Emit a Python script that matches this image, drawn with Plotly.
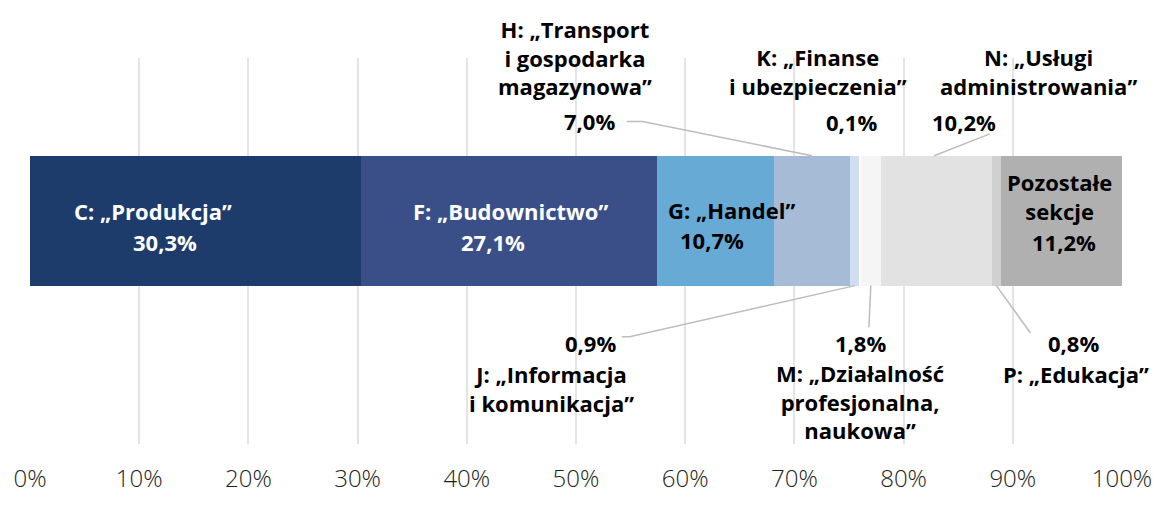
import plotly.graph_objects as go

# ---- data ----
sections = ["C", "F", "G", "H", "J", "K", "M", "N", "P", "Pozostałe"]
shares = [30.3, 27.1, 10.7, 7.0, 0.9, 0.1, 1.8, 10.2, 0.8, 11.2]
share_labels = ["30,3%", "27,1%", "10,7%", "7,0%", "0,9%", "0,1%", "1,8%", "10,2%", "0,8%", "11,2%"]
names = ["C: „Produkcja”", "F: „Budownictwo”", "G: „Handel”",
         "H: „Transport<br>i gospodarka<br>magazynowa”",
         "J: „Informacja<br>i komunikacja”",
         "K: „Finanse<br>i ubezpieczenia”",
         "M: „Działalność<br>profesjonalna,<br>naukowa”",
         "N: „Usługi<br>administrowania”",
         "P: „Edukacja”",
         "Pozostałe<br>sekcje"]
colors = ["#1d3b6b", "#3a4f88", "#68aad6", "#a5bbd6", "#d1ddf0", "#ffffff",
          "#f5f5f5", "#e2e2e2", "#d0d0d0", "#b0b0b0"]
tick_vals = [0, 10, 20, 30, 40, 50, 60, 70, 80, 90, 100]
tick_text = [f"{v}%" for v in tick_vals]

BOLD = "Open Sans"
FS = 22
PLOT_L, PLOT_R = 30, 1128
PLOT_T, PLOT_B = 58, 465
BAR_CY = 229.5
BAR_H = 137


def px2x(px):
    return (px - PLOT_L) / (PLOT_R - PLOT_L) * 100


def py2y(py):
    return BAR_CY - py


def py2paper(py):
    return (PLOT_B - py) / (PLOT_B - PLOT_T)


fig = go.Figure()
for s, v, c in zip(sections, shares, colors):
    fig.add_trace(go.Bar(x=[v], y=[0], orientation="h", marker=dict(color=c, line=dict(width=0)),
                         width=BAR_H, name=s, hoverinfo="skip", showlegend=False))

starts = []
acc = 0
for v in shares:
    starts.append(acc)
    acc += v
centers = [s + v / 2 for s, v in zip(starts, shares)]

ann = []


def add(text, px, py, color="black"):
    ann.append(dict(x=px2x(px), y=py2paper(py), text=text, showarrow=False,
                    xref="x", yref="paper", xanchor="center", yanchor="middle",
                    font=dict(family=BOLD, size=FS, color=color, weight=700), align="center"))


# inside labels
add(names[0], 153.5, 219, "white"); add(share_labels[0], 166, 251.5, "white")
add(names[1], 513, 219, "white"); add(share_labels[1], 496, 251.5, "white")
add(names[2], 735.5, 218.5); add(share_labels[2], 716, 249.5)
add(names[9], 1065.5, 204); add(share_labels[9], 1070, 252)
# outside labels (above)
add(names[3], 578, 57); add(share_labels[3], 592.5, 124)
add(names[5], 822.5, 72.5); add(share_labels[5], 856, 125)
add(names[7], 1044.5, 72.5); add(share_labels[7], 969, 125)
# outside labels (below)
add(share_labels[4], 593.5, 359); add(names[4], 554, 406)
add(share_labels[6], 865, 359); add(names[6], 865, 420)
add(share_labels[8], 1079, 359); add(names[8], 1082, 391)

top = py2y(BAR_CY - BAR_H / 2)
bot = py2y(BAR_CY + BAR_H / 2)
line_style = dict(color="#bdbdbd", width=1.5)
shapes = []


def path(points):
    d = "M " + " L ".join(f"{x},{y}" for x, y in points)
    shapes.append(dict(type="path", path=d, xref="x", yref="y", line=line_style))


path([(px2x(630), py2y(125)), (px2x(646), py2y(125)), (centers[3], top)])
path([(px2x(995), py2y(138)), (centers[7] - 0.2, top)])
path([(centers[4], bot), (px2x(633), py2y(352)), (px2x(625), py2y(352))])
path([(centers[6], bot), (px2x(873.5), py2y(342))])
path([(centers[8], bot), (px2x(1036), py2y(348))])

W, H = 1164, 506
fig.update_layout(
    barmode="stack",
    width=W, height=H,
    margin=dict(l=PLOT_L, r=W - PLOT_R, t=PLOT_T, b=H - PLOT_B),
    paper_bgcolor="white", plot_bgcolor="white",
    bargap=0,
    annotations=ann, shapes=shapes,
    xaxis=dict(range=[0, 100], tickvals=tick_vals, ticktext=tick_text,
               showgrid=True, gridcolor="#e4e4e4", gridwidth=2, zeroline=False,
               showline=False, ticks="", ticklabelstandoff=18,
               tickfont=dict(family="Open Sans", size=24, color="#1e1e1e", weight=300)),
    yaxis=dict(range=[py2y(PLOT_B), py2y(PLOT_T)], visible=False, fixedrange=True),
)
fig.write_html("out.html", config={"displayModeBar": False},
               post_script="document.body.style.margin='0';")
